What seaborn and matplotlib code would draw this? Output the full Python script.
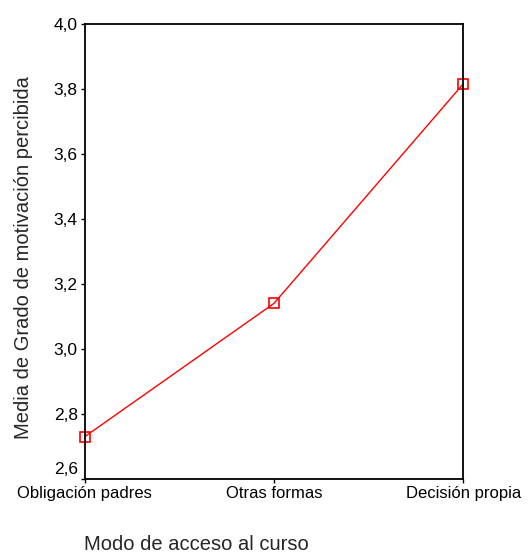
import matplotlib
matplotlib.use("Agg")
import matplotlib.pyplot as plt
import matplotlib.transforms as mtransforms
import seaborn as sns
import pandas as pd
from matplotlib.ticker import FuncFormatter

categorias = ["Obligación padres", "Otras formas", "Decisión propia"]
medias = [2.73, 3.14, 3.815]
y_ticks = [2.6, 2.8, 3.0, 3.2, 3.4, 3.6, 3.8, 4.0]

sns.set_style("white")
plt.rcParams["font.family"] = ["Liberation Sans", "DejaVu Sans"]

df = pd.DataFrame({"modo": categorias, "media": medias})

fig = plt.figure(figsize=(5.3, 5.53), dpi=100)
ax = fig.add_axes([0.160, 0.134, 0.714, 0.823])

sns.lineplot(data=df, x="modo", y="media", ax=ax, sort=False,
             color="#ff0000", linewidth=1, marker="s", markersize=7,
             markerfacecolor="none", markeredgecolor="#ff0000",
             markeredgewidth=1.2, clip_on=False)

ax.set_xlim(0, 2)
ax.set_ylim(2.6, 4.0)
ax.set_yticks(y_ticks)
ax.yaxis.set_major_formatter(FuncFormatter(lambda v, p: f"{v:.1f}".replace(".", ",")))

for s in ax.spines.values():
    s.set_color("black")
    s.set_linewidth(1.3)

ax.tick_params(axis="both", direction="out", length=3, width=1, colors="black",
               pad=2, left=True, bottom=True)
ax.tick_params(axis="y", labelsize=12.5)
ax.tick_params(axis="x", labelsize=12)

# lowest y label sits a bit higher so it clears the category label
lab = ax.yaxis.get_major_ticks()[0].label1
lab.set_transform(lab.get_transform() +
                  mtransforms.ScaledTranslation(0, 0.11, fig.dpi_scale_trans))

ax.set_xlabel("")
ax.set_ylabel("")
fig.text(0.045, 0.534, "Media de Grado de motivación percibida", fontsize=14.5,
         rotation=90, ha="center", va="center")
fig.text(0.37, 0.016, "Modo de acceso al curso", fontsize=14.5, ha="center", va="center")

fig.savefig("out.png", dpi=100)
